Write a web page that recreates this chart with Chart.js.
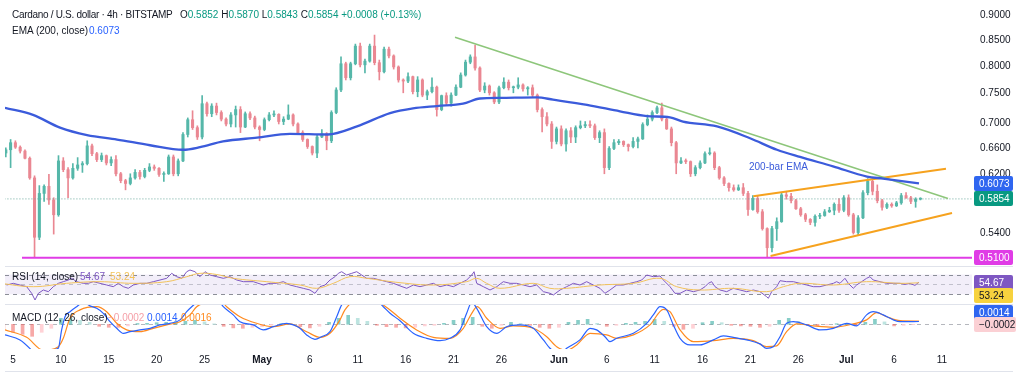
<!DOCTYPE html>
<html><head><meta charset="utf-8">
<script src="https://cdn.jsdelivr.net/npm/chart.js@4.4.1/dist/chart.umd.min.js"></script>
<style>
html,body{margin:0;padding:0;background:#fff;width:1024px;height:379px;overflow:hidden;font-family:"Liberation Sans",Arial,sans-serif;}
.pane{position:absolute;left:0;width:1024px;}
canvas{display:block;}
.t{position:absolute;white-space:nowrap;font-size:10px;color:#131722;line-height:12px;}
.sep{position:absolute;left:5px;width:1008px;height:1px;background:#e0e3eb;}
</style></head><body>
<div class="pane" style="top:0;height:266px"><canvas id="cp"></canvas></div>
<div class="pane" style="top:266px;height:38px"><canvas id="cr"></canvas></div>
<div class="pane" style="top:304px;height:68px"><canvas id="cm"></canvas></div>
<div class="sep" style="top:266px"></div>
<div class="sep" style="top:304px"></div>
<div class="sep" style="top:371px"></div>
<div id="overlay"></div>
<script>
// ---------- DATA ----------
// 12h candles, starting Apr 4 00:00 (day -1 relative to Apr 5)
const candleStartDay = -1;
const candleStepDays = 0.5;
const opens = [.652,.657,.668,.661,.655,.644,.615,.535,.593,.603,
.584,.564,.640,.627,.615,.629,.634,.636,.663,.651,
.642,.648,.637,.642,.621,.611,.607,.615,.623,.617,
.626,.631,.629,.620,.621,.646,.621,.640,.681,.705,
.692,.677,.732,.715,.728,.717,.706,.698,.713,.722,
.693,.715,.708,.693,.689,.705,.713,.714,.702,.706,
.713,.698,.684,.673,.662,.652,.677,.682,.671,.717,
.756,.804,.778,.804,.838,.802,.809,.838,.806,.789,
.832,.819,.798,.774,.772,.780,.753,.774,.747,.753,
.761,.722,.746,.733,.747,.761,.783,.807,.817,.796,
.756,.763,.751,.735,.760,.770,.760,.761,.765,.758,
.760,.747,.722,.710,.698,.670,.690,.666,.687,.677,
.692,.695,.697,.695,.676,.684,.630,.659,.668,.670,
.665,.662,.670,.674,.697,.706,.717,.725,.706,.690,
.668,.637,.640,.639,.621,.630,.637,.651,.652,.630,
.615,.607,.601,.598,.601,.593,.571,.586,.568,.546,
.522,.546,.555,.591,.589,.583,.572,.564,.558,.554,
.562,.563,.568,.570,.578,.570,.587,.564,.541,.560,
.594,.610,.596,.583,.574,.578,.576,.580,.590,.587,
.582,.585];
const highs = [.660,.673,.671,.663,.657,.646,.618,.604,.605,.620,
.587,.648,.645,.630,.636,.645,.639,.671,.666,.653,
.652,.649,.646,.648,.623,.613,.621,.627,.626,.629,
.636,.634,.630,.624,.649,.649,.643,.684,.708,.720,
.695,.746,.735,.732,.733,.720,.708,.717,.728,.727,
.718,.718,.711,.695,.708,.717,.720,.715,.710,.730,
.715,.700,.687,.674,.663,.681,.689,.684,.720,.760,
.817,.807,.807,.842,.844,.813,.842,.860,.811,.836,
.836,.821,.800,.776,.787,.781,.780,.776,.756,.778,
.763,.747,.751,.751,.765,.787,.811,.821,.840,.798,
.769,.765,.753,.763,.778,.774,.763,.778,.767,.762,
.765,.749,.725,.717,.702,.693,.695,.690,.692,.695,
.703,.702,.703,.698,.687,.690,.662,.673,.673,.671,
.666,.676,.677,.700,.713,.720,.728,.733,.708,.693,
.670,.645,.643,.640,.633,.640,.654,.660,.654,.632,
.617,.608,.605,.605,.607,.596,.590,.590,.571,.547,
.549,.560,.594,.596,.593,.585,.574,.566,.559,.564,
.566,.571,.574,.580,.586,.590,.591,.566,.563,.597,
.614,.615,.605,.585,.580,.580,.582,.593,.594,.589,
.587,.587];
const lows = [.646,.630,.659,.652,.643,.613,.511,.532,.582,.578,
.539,.562,.624,.587,.613,.626,.623,.634,.648,.639,
.639,.634,.633,.618,.608,.598,.605,.613,.613,.615,
.624,.626,.617,.610,.620,.618,.618,.639,.677,.689,
.673,.674,.711,.710,.713,.703,.695,.693,.693,.684,
.692,.705,.690,.671,.687,.703,.710,.698,.697,.705,
.695,.682,.670,.659,.649,.645,.676,.657,.668,.715,
.753,.774,.774,.802,.798,.787,.807,.802,.774,.787,
.815,.794,.770,.751,.769,.749,.744,.744,.739,.751,
.711,.720,.730,.728,.746,.760,.781,.804,.792,.753,
.751,.747,.732,.732,.758,.756,.751,.758,.754,.747,
.744,.718,.685,.695,.659,.666,.663,.655,.668,.668,
.690,.692,.692,.673,.668,.621,.627,.657,.665,.662,
.655,.660,.660,.673,.695,.703,.715,.703,.689,.663,
.621,.636,.636,.617,.618,.628,.636,.649,.627,.613,
.604,.596,.596,.597,.590,.563,.570,.566,.544,.511,
.517,.531,.554,.585,.580,.571,.562,.555,.551,.549,
.559,.562,.567,.564,.567,.568,.562,.539,.537,.559,
.591,.591,.580,.570,.572,.574,.575,.578,.586,.579,
.574,.584];
const closes = [.657,.668,.661,.655,.644,.615,.535,.593,.603,.584,
.564,.640,.627,.615,.629,.634,.636,.663,.651,.642,
.648,.637,.642,.621,.611,.607,.615,.623,.617,.626,
.631,.629,.620,.621,.646,.621,.640,.681,.705,.692,
.677,.732,.715,.728,.717,.706,.698,.713,.722,.693,
.715,.708,.693,.689,.705,.713,.714,.702,.706,.713,
.698,.684,.673,.662,.652,.677,.682,.671,.717,.756,
.804,.778,.804,.838,.802,.809,.838,.806,.789,.832,
.819,.798,.774,.772,.780,.753,.774,.747,.753,.761,
.722,.746,.733,.747,.761,.783,.807,.817,.796,.756,
.763,.751,.735,.760,.770,.760,.761,.765,.758,.760,
.747,.722,.710,.698,.670,.690,.666,.687,.677,.692,
.695,.697,.695,.676,.684,.630,.659,.668,.670,.665,
.662,.670,.674,.697,.706,.717,.725,.706,.690,.668,
.637,.640,.639,.621,.630,.637,.651,.652,.630,.615,
.607,.601,.598,.601,.593,.571,.586,.568,.546,.522,
.546,.555,.591,.589,.583,.572,.564,.558,.554,.562,
.563,.568,.570,.578,.570,.587,.564,.541,.560,.594,
.610,.596,.583,.574,.578,.576,.580,.590,.587,.582,
.585,.5854];

// EMA(200) read at points (day since Apr 5, price)
const emaDays = [-0.84,2.09,4.91,7.73,10.86,14.31,17.75,19.53,21.93,25.48,28.92,32.89,35.92,39.37,41.77,44.27,46.99,48.76,50.85,54.71,56.39,59.94,63.38,66.2,68.6,69.96,73.51,76.96,79.77,82.18,85.62,89.17,90.84,94.6];
const emaVals = [0.725,0.713,0.692,0.680,0.673,0.664,0.657,0.661,0.670,0.676,0.682,0.681,0.694,0.716,0.724,0.728,0.732,0.741,0.742,0.743,0.739,0.730,0.719,0.711,0.709,0.702,0.694,0.675,0.657,0.646,0.632,0.617,0.614,0.6073];

// drawn lines (day, price)
const trendDays = [46.15, 97.63];      const trendVals = [0.8555, 0.5859];
const upperChDays = [77.3, 97.42];     const upperChVals = [0.589, 0.6285];
const lowerChDays = [79.1, 98.05];     const lowerChVals = [0.512, 0.5663];
const supportLevel = 0.51;  const supportFromDay = 0.94;

// header values of the last 4h bar
const lastBar = {o:0.5852, h:0.5870, l:0.5843, c:0.5854, chg:0.0008, pct:0.13};

// RSI(14) and its MA
const rsiDays = [-0.66,0.03,0.73,1.43,1.95,2.30,2.65,3.17,3.69,4.21,4.73,5.25,5.78,6.13,6.65,7.34,7.87,8.39,9.08,9.78,10.47,11.0,11.52,12.04,12.56,13.26,13.96,14.65,15.35,16.05,16.57,17.09,17.62,18.14,18.48,19.0,19.53,20.05,20.57,21.27,21.96,22.66,23.36,24.05,25.09,26.14,26.84,27.53,28.23,28.92,29.62,30.31,31.01,31.53,32.06,32.58,33.1,33.62,33.97,34.32,34.84,35.37,35.89,36.41,36.93,37.63,38.33,39.02,39.71,40.41,41.11,41.8,42.5,43.2,43.89,44.59,45.29,45.98,46.68,47.37,47.9,48.14,48.42,49.11,49.81,50.51,51.2,51.9,52.59,53.29,53.98,54.68,55.38,56.07,56.42,57.12,57.81,58.51,59.2,59.9,60.59,61.29,61.81,62.34,63.04,63.73,64.43,65.13,65.65,66.17,66.86,67.56,67.91,68.6,69.12,69.65,70.34,71.04,71.73,72.26,72.6,72.95,73.3,73.82,74.52,75.21,75.91,76.61,77.3,78.0,78.69,78.87,79.22,79.74,80.09,80.78,81.48,82.18,82.87,83.57,84.26,84.96,85.66,86.0,86.35,86.87,87.22,87.74,88.09,88.61,89.13,89.48,89.82,90.53,91.22,91.92,92.62,93.14,93.66,94.18,94.6];
const rsiVals = [48.8,52.2,48.8,45.4,32.0,18.5,32.0,38.7,35.3,45.4,52.2,55.5,58.9,62.3,55.5,52.2,52.2,55.5,52.2,48.8,45.4,52.2,45.4,42.1,48.8,52.2,52.2,55.5,58.9,62.3,72.4,65.6,62.3,75.7,79.1,75.7,65.6,75.7,69.0,65.6,62.3,65.6,58.9,55.5,55.5,48.8,52.2,52.2,55.5,48.8,45.4,42.1,38.7,32.0,45.4,48.8,58.9,65.6,72.4,75.7,69.0,72.4,75.7,69.0,62.3,62.3,58.9,55.5,52.2,47.0,42.1,48.8,45.4,48.8,52.2,45.4,48.8,45.4,52.2,58.9,69.0,75.7,52.2,45.4,38.7,45.4,55.5,52.2,52.2,48.8,45.4,48.8,35.3,32.0,28.6,38.7,45.4,52.2,48.8,55.5,48.8,42.1,32.0,38.7,48.8,48.8,52.2,55.5,58.9,69.0,65.6,67.0,58.9,45.4,32.0,32.0,38.7,35.3,38.7,45.4,52.2,55.5,45.4,38.7,35.3,42.1,38.7,35.3,38.7,35.3,25.2,21.9,35.3,45.4,57.5,55.5,55.5,52.2,48.8,45.4,45.4,48.8,52.2,55.5,52.2,62.3,52.2,42.1,48.8,55.5,62.3,65.6,58.9,55.5,52.2,52.2,52.2,50.0,52.0,48.0,54.67];
const rsiMaDays = [-1.36,2.12,5.6,9.08,12.56,16.05,18.14,19.53,21.27,23.0,26.5,29.97,31.71,33.45,35.19,36.93,40.41,43.89,47.37,48.42,49.46,50.85,54.33,56.07,57.81,61.29,64.78,67.56,69.3,71.73,75.21,78.69,80.44,82.18,85.66,89.13,92.62,94.6];
const rsiMaVals = [52.2,45.4,52.2,55.5,52.2,55.5,65.6,72.4,70.0,62.3,55.5,48.8,42.1,52.2,65.6,62.3,53.5,48.8,55.5,62.3,52.2,42.1,52.2,42.1,42.1,48.8,52.2,62.3,45.4,38.7,42.1,35.3,45.4,52.2,48.8,55.5,52.2,53.24];

// MACD(12,26)
const macdDays = [-0.84,0.73,1.95,2.82,3.69,4.73,5.08,5.43,5.95,6.65,7.34,8.04,8.74,9.43,10.13,10.83,11.52,12.22,13.26,14.31,15.35,16.39,17.44,18.14,18.66,19.53,20.57,21.61,21.96,23.0,23.7,25.09,26.14,27.18,28.57,29.27,29.97,30.66,31.53,32.22,33.1,33.8,34.32,35.19,36.93,38.67,39.37,40.41,41.8,43.2,44.59,45.63,46.68,47.37,47.9,48.42,49.46,50.51,51.55,52.94,54.33,55.38,56.07,57.12,57.81,59.2,60.25,60.94,61.81,62.34,63.04,64.78,66.17,66.86,67.56,68.26,68.95,69.65,70.69,71.73,73.13,74.17,75.21,76.61,78.0,78.69,79.39,80.09,80.78,81.48,82.87,84.26,85.66,87.06,88.09,89.13,89.82,90.87,91.92,92.62,94.6];
const macdVals = [-0.0053,-0.0078,-0.013,-0.018,-0.013,-0.012,-0.0028,0.0038,0.0063,0.0088,0.011,0.0092,0.008,0.0055,0.0013,-0.002,-0.0045,-0.0037,-0.0028,-0.002,-0.0003,0.0005,0.0022,0.0063,0.0088,0.012,0.014,0.011,0.0088,0.0047,0.0013,-0.0003,-0.0028,-0.0012,0.0005,-0.0003,-0.002,-0.0053,-0.0075,-0.0062,-0.0037,0.0038,0.0097,0.014,0.016,0.0088,0.0055,0.0018,-0.0045,-0.007,-0.0082,-0.007,-0.0028,0.0055,0.011,0.008,-0.0012,-0.0045,-0.0012,-0.0003,-0.002,-0.0078,-0.012,-0.015,-0.012,-0.0078,-0.002,-0.0028,-0.0062,-0.0087,-0.007,-0.0045,0.0005,0.0047,0.0088,0.0072,-0.0003,-0.007,-0.0103,-0.0103,-0.0078,-0.0058,-0.0065,-0.0078,-0.0098,-0.012,-0.0112,-0.0062,0.0005,0.0013,-0.0003,-0.0028,-0.002,0.0005,-0.0008,0.0047,0.0063,0.0047,0.0022,0.0013,0.0014];
const sigDays = [-0.84,1.43,3.17,4.73,5.25,5.95,7.0,8.74,9.78,10.83,11.87,13.26,14.65,16.05,17.44,18.48,19.18,20.22,21.61,22.31,23.7,25.44,27.18,28.92,30.66,32.06,33.1,34.14,34.66,36.23,37.8,39.37,40.41,42.15,43.89,45.63,47.02,47.9,48.48,49.46,50.85,52.24,54.33,55.73,56.77,57.81,58.86,60.25,61.99,63.04,64.78,66.51,67.91,68.6,69.65,71.04,73.13,75.21,77.3,78.69,79.74,80.78,81.83,83.57,85.66,87.74,89.13,90.18,91.22,92.62,94.6];
const sigVals = [-0.0028,-0.0065,-0.013,-0.0112,-0.007,0.003,0.0072,0.0088,0.0063,0.0005,-0.0028,-0.0037,-0.002,-0.0003,0.0013,0.0047,0.0088,0.011,0.012,0.0088,0.0038,0.0005,-0.0012,0.0002,-0.0037,-0.0065,-0.0045,0.0022,0.0072,0.013,0.012,0.0072,0.003,-0.0028,-0.0065,-0.007,-0.002,0.0055,0.0088,0.003,-0.002,-0.0008,-0.002,-0.0062,-0.0112,-0.013,-0.0103,-0.0045,-0.0053,-0.007,-0.0053,-0.0003,0.0075,0.0063,-0.0028,-0.0087,-0.0082,-0.007,-0.0082,-0.0112,-0.0108,-0.0037,0.0002,-0.0008,-0.0015,0.0002,0.0022,0.0058,0.0038,0.0018,0.0016];
// histogram, one bar per day starting day -1
const histStartDay = -1;
const histVals = [-0.003,-0.004,-0.005,-0.006,-0.004,-0.002,0.003,0.003,0.002,0.001,-0.001,-0.0015,-0.0015,-0.0008,0.0004,0.0005,0.0008,0.001,0.0013,0.0015,0.002,0.0012,0.0002,-0.001,-0.0018,-0.002,-0.0015,-0.0012,-0.0005,0.0003,0.0002,-0.0012,-0.0018,-0.001,0.001,0.003,0.0045,0.003,0.0015,-0.0005,-0.0012,-0.0015,-0.0018,-0.0015,-0.0008,-0.0005,0.0005,0.002,0.003,0.0035,-0.001,-0.002,-0.0005,0.001,0.0005,-0.0005,-0.0015,-0.002,-0.0015,0.001,0.002,0.0025,0.0005,-0.001,-0.0005,0.0005,0.001,0.0015,0.0025,0.0015,-0.001,-0.0025,-0.002,0.0008,0.0015,0.0008,-0.0005,-0.0008,-0.001,-0.0015,-0.001,0.002,0.003,0.0015,-0.0005,-0.0008,-0.0003,0.0003,0.0003,-0.0005,0.001,0.0025,0.0012,-0.0008,-0.0005,-0.0002];

// axes
const xTickDays = [0,5,10,15,20,26,31,36,41,46,51,57,62,67,72,77,82,87,92,97];
const xTickLabels = ['5','10','15','20','25','May','6','11','16','21','26','Jun','6','11','16','21','26','Jul','6','11'];
const priceTicks = [0.9,0.85,0.8,0.75,0.7,0.66,0.62,0.54];

// ---------- RENDER ----------
const FONT = '"Liberation Sans", Arial, sans-serif';
Chart.defaults.font.family = FONT;
Chart.defaults.font.size = 10;
Chart.defaults.color = '#131722';
Chart.defaults.animation = false;

const X_MIN = -0.835, X_MAX = 100.136;
const P_MIN = 0.5001, P_MAX = 0.9338;
const UP = '#55b7a9', DOWN = '#ea8792';

function xAxis(display) {
  return {type:'linear', min:X_MIN, max:X_MAX, display:display, offset:false, bounds:'data',
    grid:{display:false, drawTicks:false}, border:{display:false}};
}
const pts = (xs, ys) => xs.map((x, i) => ({x:x, y:ys[i]}));
const baseOpts = {responsive:true, maintainAspectRatio:false, animation:false, events:[],
  plugins:{legend:{display:false}, tooltip:{enabled:false}}};

function badge(ctx, y, text, bg, fg, w) {
  const x = 974, h = 15; w = w || 39;
  ctx.save();
  ctx.fillStyle = bg;
  ctx.beginPath();
  if (ctx.roundRect) ctx.roundRect(x, Math.round(y - h / 2), w, h, 2); else ctx.rect(x, Math.round(y - h / 2), w, h);
  ctx.fill();
  ctx.fillStyle = fg;
  ctx.font = '10px ' + FONT;
  ctx.textBaseline = 'middle';
  ctx.textAlign = 'left';
  ctx.fillText(text, x + 5, Math.round(y - h / 2) + h / 2 + 0.5);
  ctx.restore();
}

const candleX = closes.map((_, i) => candleStartDay + candleStepDays * (i + 0.5));
const candleColor = ctx => closes[ctx.dataIndex] >= opens[ctx.dataIndex] ? UP : DOWN;
const lastClose = closes[closes.length - 1];
const lastEma = emaVals[emaVals.length - 1];

new Chart(document.getElementById('cp'), {
  type:'bar',
  data:{datasets:[
    {type:'line', data:pts(emaDays, emaVals), borderColor:'#3b5bdb', borderWidth:2.3, pointRadius:0, cubicInterpolationMode:'monotone', order:1},
    {type:'line', data:pts(trendDays, trendVals), borderColor:'#8dc67a', borderWidth:1.6, pointRadius:0, order:2},
    {type:'line', data:pts(upperChDays, upperChVals), borderColor:'#f6a21e', borderWidth:2, pointRadius:0, order:2},
    {type:'line', data:pts(lowerChDays, lowerChVals), borderColor:'#f6a21e', borderWidth:2, pointRadius:0, order:2},
    {type:'line', data:[{x:supportFromDay, y:supportLevel},{x:X_MAX + 1, y:supportLevel}], borderColor:'#e03ce6', borderWidth:2, pointRadius:0, order:2},
    {type:'line', data:[{x:X_MIN - 1, y:lastClose},{x:X_MAX + 1, y:lastClose}], borderColor:'#6aa89c', borderWidth:1, borderDash:[1,2], pointRadius:0, order:3},
    {data:candleX.map((x, i) => ({x:x, y:[lows[i], highs[i]]})), backgroundColor:candleColor, barThickness:1, grouped:false, order:10},
    {data:candleX.map((x, i) => ({x:x, y:[opens[i], closes[i]]})), backgroundColor:candleColor, barThickness:2.4, minBarLength:1, grouped:false, order:9}
  ]},
  options:Object.assign({}, baseOpts, {
    layout:{padding:{left:5, right:0, top:0, bottom:0}},
    scales:{
      x:xAxis(false),
      y:{type:'logarithmic', position:'right', min:P_MIN, max:P_MAX, bounds:'data',
        grid:{display:false, drawTicks:false}, border:{display:false},
        afterBuildTicks:s => { s.ticks = priceTicks.map(v => ({value:v})); },
        afterFit:s => { s.width = 52; s.paddingTop = 0; s.paddingBottom = 0; },
        ticks:{autoSkip:false, padding:8, color:'#131722', callback:v => Number(v).toFixed(4)}}
    }
  }),
  plugins:[{id:'pb', afterDraw(chart) {
    const y = chart.scales.y, ctx = chart.ctx;
    badge(ctx, y.getPixelForValue(lastEma), lastEma.toFixed(4), '#2f66f0', '#fff');
    badge(ctx, y.getPixelForValue(lastClose), lastClose.toFixed(4), '#089981', '#fff');
    badge(ctx, y.getPixelForValue(supportLevel), supportLevel.toFixed(4), '#e03ce6', '#fff');
  }}]
});

// RSI pane
const rsiLast = rsiVals[rsiVals.length - 1], rsiMaLast = rsiMaVals[rsiMaVals.length - 1];
new Chart(document.getElementById('cr'), {
  type:'line',
  data:{datasets:[
    {data:pts(rsiMaDays, rsiMaVals), borderColor:'#f2c25a', borderWidth:1, pointRadius:0, tension:0.4},
    {data:pts(rsiDays, rsiVals), borderColor:'#7e57c2', borderWidth:1, pointRadius:0}
  ]},
  options:Object.assign({}, baseOpts, {
    layout:{padding:{left:5, right:52, top:0, bottom:0}},
    scales:{x:xAxis(false), y:{type:'linear', min:10.4, max:87.2, display:false}}
  }),
  plugins:[{id:'rb', beforeDatasetsDraw(chart) {
    const ctx = chart.ctx, a = chart.chartArea, y = chart.scales.y;
    const y70 = y.getPixelForValue(70), y50 = y.getPixelForValue(50), y30 = y.getPixelForValue(30);
    ctx.save();
    ctx.fillStyle = 'rgba(126,87,194,0.1)';
    ctx.fillRect(a.left, y70, a.right - a.left, y30 - y70);
    ctx.setLineDash([4,4]); ctx.lineWidth = 1;
    ctx.strokeStyle = 'rgba(120,123,134,0.85)';
    [y70, y30].forEach(p => { ctx.beginPath(); ctx.moveTo(a.left, Math.round(p) + 0.5); ctx.lineTo(a.right, Math.round(p) + 0.5); ctx.stroke(); });
    ctx.strokeStyle = 'rgba(120,123,134,0.4)';
    ctx.beginPath(); ctx.moveTo(a.left, Math.round(y50) + 0.5); ctx.lineTo(a.right, Math.round(y50) + 0.5); ctx.stroke();
    ctx.restore();
  }, afterDraw(chart) {
    const y = chart.scales.y, ctx = chart.ctx;
    const p1 = y.getPixelForValue(rsiLast);
    const p2 = Math.max(y.getPixelForValue(rsiMaLast), p1 + 13);
    badge(ctx, p1, rsiLast.toFixed(2), '#7e57c2', '#fff');
    badge(ctx, p2, rsiMaLast.toFixed(2), '#f7d23e', '#131722');
  }}]
});

// MACD pane
const histData = histVals.map((v, i) => ({x:histStartDay + i, y:v}));
const histColor = ctx => {
  const i = ctx.dataIndex, v = histVals[i], p = i > 0 ? histVals[i - 1] : 0;
  if (v >= 0) return v >= p ? 'rgba(38,166,154,0.55)' : 'rgba(178,223,219,0.85)';
  return v <= p ? 'rgba(239,83,80,0.5)' : 'rgba(255,205,210,0.9)';
};
const macdLast = macdVals[macdVals.length - 1], histLast = histVals[histVals.length - 1];
new Chart(document.getElementById('cm'), {
  type:'bar',
  data:{datasets:[
    {type:'line', data:pts(sigDays, sigVals), borderColor:'#ff8a1f', borderWidth:1.2, pointRadius:0, cubicInterpolationMode:'monotone', order:2},
    {type:'line', data:pts(macdDays, macdVals), borderColor:'#2962ff', borderWidth:1.2, pointRadius:0, cubicInterpolationMode:'monotone', order:1},
    {data:histData, backgroundColor:histColor, barThickness:3, grouped:false, order:5}
  ]},
  options:Object.assign({}, baseOpts, {
    layout:{padding:{left:5, right:52, top:0, bottom:0}},
    scales:{
      x:Object.assign(xAxis(true), {
        afterBuildTicks:s => { s.ticks = xTickDays.map(v => ({value:v})); },
        afterFit:s => { s.height = 23; s.paddingLeft = 0; s.paddingRight = 0; },
        ticks:{autoSkip:false, maxRotation:0, minRotation:0, padding:5, color:'#131722',
          font:ctx => ({size:10, weight:/^[A-Z]/.test(xTickLabels[ctx.index] || '') ? 'bold' : 'normal'}),
          callback:(v, i) => xTickLabels[i]}
      }),
      y:{type:'linear', min:-0.01235, max:0.01015, display:false}
    }
  }),
  plugins:[{id:'mb', beforeDatasetsDraw(chart) {
    const ctx = chart.ctx, a = chart.chartArea, y = chart.scales.y;
    const y0 = Math.round(y.getPixelForValue(0)) + 0.5;
    ctx.save(); ctx.setLineDash([4,4]); ctx.strokeStyle = 'rgba(120,123,134,0.55)'; ctx.lineWidth = 1;
    ctx.beginPath(); ctx.moveTo(a.left, y0); ctx.lineTo(a.right, y0); ctx.stroke(); ctx.restore();
  }, afterDraw(chart) {
    const y = chart.scales.y, ctx = chart.ctx;
    const ph = y.getPixelForValue(histLast);
    const pm = Math.min(y.getPixelForValue(macdLast), ph - 12.6);
    badge(ctx, pm, macdLast.toFixed(4), '#2f66f0', '#fff');
    badge(ctx, ph, histLast.toFixed(4).replace('-', '\u2212'), '#fbd0d4', '#131722', 42);
  }}]
});

// ---------- TEXT OVERLAYS ----------
const ov = document.getElementById('overlay');
function txt(left, top, html, style) {
  const d = document.createElement('div');
  d.className = 't';
  d.style.left = left + 'px'; d.style.top = top + 'px';
  if (style) d.style.cssText += style;
  d.innerHTML = html;
  ov.appendChild(d);
}
const G = s => '<span style="color:#089981">' + s + '</span>';
txt(12, 9, 'Cardano / U.S. dollar \u00b7 4h \u00b7 BITSTAMP', 'letter-spacing:-0.3px');
txt(180, 9, 'O' + G(lastBar.o.toFixed(4)) + ' H' + G(lastBar.h.toFixed(4)) + ' L' + G(lastBar.l.toFixed(4)) +
  ' C' + G(lastBar.c.toFixed(4)) + ' ' + G('+' + lastBar.chg.toFixed(4) + ' (+' + lastBar.pct.toFixed(2) + '%)'));
txt(12, 25, 'EMA (200, close)');
txt(89, 25, lastEma.toFixed(4), 'color:#2962ff');
txt(749, 161, '200-bar EMA', 'color:#3b5bdb');
txt(12, 271, 'RSI (14, close)');
txt(80, 271, rsiLast.toFixed(2), 'color:#7e57c2');
txt(110, 271, rsiMaLast.toFixed(2), 'color:#f2c25a');
txt(12, 312, 'MACD (12, 26, close)');
txt(108, 312, '\u2212' + Math.abs(histLast).toFixed(4), 'color:#f5a0a8');
txt(147, 312, macdLast.toFixed(4), 'color:#2962ff');
txt(181, 312, sigVals[sigVals.length - 1].toFixed(4), 'color:#ff8a1f');
</script>
</body></html>
